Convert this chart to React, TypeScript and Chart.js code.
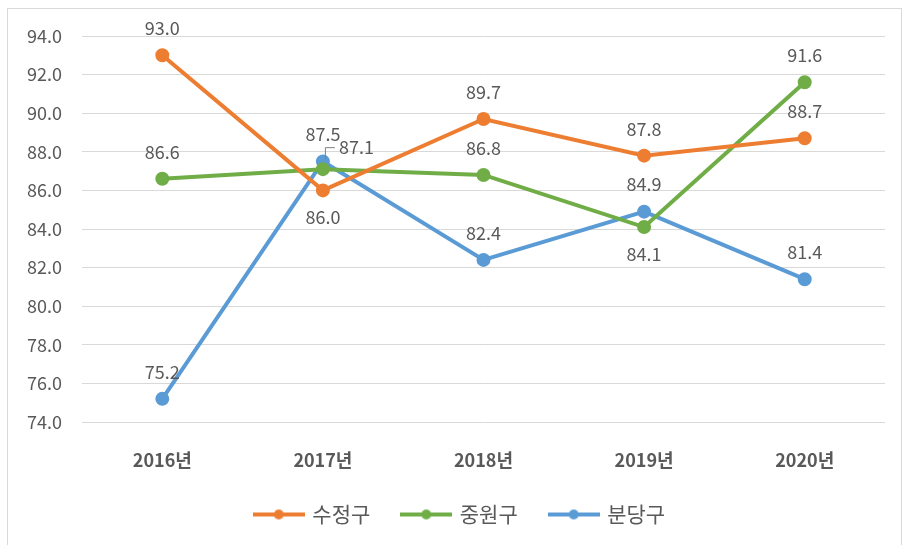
import { useEffect, useRef } from "react";
import { Chart, registerables } from "chart.js";

Chart.register(...registerables);

const categories = ["2016년", "2017년", "2018년", "2019년", "2020년"];
const seriesNames = ["수정구", "중원구", "분당구"];
const sujeong = [93.0, 86.0, 89.7, 87.8, 88.7];
const jungwon = [86.6, 87.1, 86.8, 84.1, 91.6];
const bundang = [75.2, 87.5, 82.4, 84.9, 81.4];
const yTicks = { min: 74, max: 94, step: 2 };

const colors = ["#ED7D31", "#70AD47", "#5B9BD5"];
// label placement per point
const placements = [
  ["above", "below", "above", "above", "above"],
  ["above", "right", "above", "below", "above"],
  ["above", "above", "above", "above", "above"],
];

const FONT = "'Noto Sans CJK KR', 'Noto Sans', sans-serif";
const GRAY = "#595959";

function makeLegendImage(color: string) {
  const c = document.createElement("canvas");
  c.width = 52;
  c.height = 12;
  const ctx = c.getContext("2d")!;
  ctx.strokeStyle = color;
  ctx.lineWidth = 4;
  ctx.beginPath();
  ctx.moveTo(0, 6);
  ctx.lineTo(52, 6);
  ctx.stroke();
  ctx.fillStyle = color;
  ctx.beginPath();
  ctx.arc(26, 6, 5, 0, Math.PI * 2);
  ctx.fill();
  return c;
}

const labelPlugin = {
  id: "valueLabels",
  afterDatasetsDraw(chart: any) {
    const ctx = chart.ctx;
    ctx.save();
    ctx.font = `18px ${FONT}`;
    ctx.fillStyle = GRAY;
    ctx.textBaseline = "middle";
    chart.data.datasets.forEach((ds: any, di: number) => {
      const meta = chart.getDatasetMeta(di);
      meta.data.forEach((pt: any, i: number) => {
        const txt = Number(ds.data[i]).toFixed(1);
        const pos = placements[di][i];
        if (pos === "above") {
          ctx.textAlign = "center";
          ctx.fillText(txt, pt.x, pt.y - 27);
        } else if (pos === "below") {
          ctx.textAlign = "center";
          ctx.fillText(txt, pt.x, pt.y + 27);
        } else {
          ctx.strokeStyle = "#7f7f7f";
          ctx.lineWidth = 1;
          ctx.beginPath();
          ctx.moveTo(pt.x + 2.5, pt.y - 10);
          ctx.lineTo(pt.x + 2.5, pt.y - 21.5);
          ctx.lineTo(pt.x + 12, pt.y - 21.5);
          ctx.stroke();
          ctx.textAlign = "left";
          ctx.fillText(txt, pt.x + 16, pt.y - 22);
        }
      });
    });
    ctx.restore();
  },
};

const borderPlugin = {
  id: "outerBorder",
  beforeDraw(chart: any) {
    const ctx = chart.ctx;
    ctx.save();
    ctx.fillStyle = "#ffffff";
    ctx.fillRect(0, 0, chart.width, chart.height);
    ctx.strokeStyle = "#d9d9d9";
    ctx.lineWidth = 1;
    ctx.strokeRect(7.5, 8.5, 894, 545);
    ctx.restore();
  },
};

const legendShift = {
  id: "legendShift",
  afterLayout(chart: any) {
    const lg = chart.legend;
    if (lg) {
      lg.left += 18;
      lg.right += 18;
    }
  },
};

export default function App() {
  const ref = useRef<HTMLCanvasElement>(null);
  useEffect(() => {
    document.body.style.margin = "0";
    const values = [sujeong, jungwon, bundang];
    const chart = new Chart(ref.current!, {
      type: "line",
      data: {
        labels: categories,
        datasets: values.map((v, i) => ({
          label: seriesNames[i],
          data: v,
          borderColor: colors[i],
          backgroundColor: colors[i],
          pointBackgroundColor: colors[i],
          pointBorderColor: colors[i],
          borderWidth: 4,
          pointRadius: 5,
          pointStyle: "circle",
          tension: 0,
        })),
      },
      options: {
        responsive: false,
        animation: false,
        layout: { padding: { top: 36, right: 18, left: 0, bottom: 16 } },
        scales: {
          x: {
            offset: true,
            grid: { display: false },
            border: { display: false },
            ticks: { font: { family: FONT, size: 18, weight: "bold" }, color: GRAY, padding: 19 },
            afterFit: (s: any) => { s.height = 49; },
          },
          y: {
            min: yTicks.min,
            max: yTicks.max,
            grid: { color: "#d9d9d9", drawTicks: false },
            border: { display: false },
            ticks: {
              stepSize: yTicks.step,
              padding: 20,
              font: { family: FONT, size: 18 },
              color: GRAY,
              callback: (v: any) => Number(v).toFixed(1),
            },
            afterFit: (s: any) => { s.width = 82; },
          },
        },
        plugins: {
          legend: {
            position: "bottom",
            maxHeight: 58,
            labels: {
              usePointStyle: true,
              pointStyleWidth: 46,
              padding: 33,
              font: { family: FONT, size: 21 },
              color: GRAY,
              generateLabels: (ch: any) =>
                ch.data.datasets.map((d: any, i: number) => ({
                  text: d.label,
                  fillStyle: colors[i],
                  strokeStyle: colors[i],
                  fontColor: GRAY,
                  lineWidth: 0,
                  pointStyle: makeLegendImage(colors[i]),
                  datasetIndex: i,
                  hidden: false,
                })),
            },
          },
          tooltip: { enabled: false },
        },
      },
      plugins: [borderPlugin, labelPlugin, legendShift],
    });
    return () => chart.destroy();
  }, []);
  return <canvas ref={ref} width={903} height={545} style={{ display: "block" }} />;
}
